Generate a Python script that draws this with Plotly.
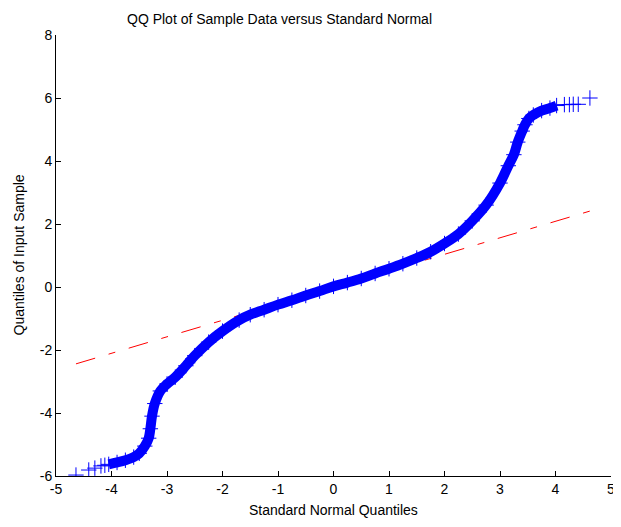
import plotly.graph_objects as go

# Standard normal quantiles (x) and sample quantiles (y)
band_x = [-4.05, -3.9, -3.75, -3.6, -3.5, -3.4, -3.33, -3.3, -3.27, -3.22, -3.12, -3.0,
          -2.85, -2.66, -2.5, -2.25, -2.0, -1.7, -1.5, -1.25, -1.0, -0.75, -0.5, -0.25,
          0.0, 0.25, 0.5, 0.75, 1.0, 1.25, 1.5, 1.75, 2.0, 2.25, 2.5, 2.75, 3.0,
          3.15, 3.25, 3.32, 3.4, 3.45, 3.52, 3.6, 3.75, 3.9, 4.02]
band_y = [-5.63, -5.57, -5.5, -5.4, -5.28, -5.05, -4.8, -4.5, -4.1, -3.7, -3.3, -3.08,
          -2.86, -2.5, -2.18, -1.75, -1.4, -1.05, -0.88, -0.72, -0.56, -0.42, -0.27, -0.13,
          0.02, 0.14, 0.27, 0.43, 0.58, 0.74, 0.92, 1.12, 1.38, 1.68, 2.1, 2.6, 3.3,
          3.85, 4.2, 4.6, 4.95, 5.15, 5.35, 5.46, 5.6, 5.68, 5.76]

tail_x = [-4.64, -4.41, -4.30, -4.19, -4.12, 4.16, 4.25, 4.32, 4.41, 4.62]
tail_y = [-5.97, -5.81, -5.75, -5.68, -5.66, 5.79, 5.79, 5.8, 5.8, 6.0]

ref_x = [-4.64, 4.62]
ref_y = [-2.44, 2.41]

x_ticks = [-5, -4, -3, -2, -1, 0, 1, 2, 3, 4, 5]
y_ticks = [-6, -4, -2, 0, 2, 4, 6, 8]

BLUE = "#0000ff"
FONT = "Liberation Sans, Arial, Helvetica, sans-serif"

fig = go.Figure()
fig.add_trace(go.Scatter(
    x=ref_x, y=ref_y, mode="lines",
    line=dict(color="#ff0000", width=1, dash="20px,14px,7px,14px"),
    hoverinfo="skip", showlegend=False))
fig.add_trace(go.Scatter(
    x=band_x, y=band_y, mode="lines+markers",
    line=dict(color=BLUE, width=10, shape="spline"),
    marker=dict(symbol="cross-thin", size=11, line=dict(color=BLUE, width=1), color=BLUE),
    hoverinfo="skip", showlegend=False))
fig.add_trace(go.Scatter(
    x=tail_x, y=tail_y, mode="markers",
    marker=dict(symbol="cross-thin", size=11, line=dict(color=BLUE, width=1), color=BLUE),
    hoverinfo="skip", showlegend=False))

fig.update_layout(
    width=613, height=519,
    margin=dict(l=48, r=6, t=27, b=51),
    paper_bgcolor="white", plot_bgcolor="white",
    font=dict(family=FONT, size=14, color="black"),
    showlegend=False,
    xaxis=dict(range=[-5, 5], tickvals=x_ticks, ticktext=[str(v) for v in x_ticks],
               showgrid=False, zeroline=False, showline=True, linecolor="black", linewidth=1,
               ticks="inside", ticklen=5, tickcolor="black", mirror=False,
               tickfont=dict(size=14)),
    yaxis=dict(range=[-6, 8], tickvals=y_ticks, ticktext=[str(v) for v in y_ticks],
               showgrid=False, zeroline=False, showline=True, linecolor="black", linewidth=1,
               ticks="inside", ticklen=5, tickcolor="black", mirror=False,
               tickfont=dict(size=14)),
    annotations=[
        dict(text="QQ Plot of Sample Data versus Standard Normal", xref="paper", yref="paper",
             x=0.4025, y=1, yshift=16, xanchor="center", yanchor="middle", showarrow=False,
             font=dict(size=14)),
        dict(text="Standard Normal Quantiles", xref="paper", yref="paper",
             x=0.5, y=0, yshift=-34, xanchor="center", yanchor="middle", showarrow=False,
             font=dict(size=14)),
        dict(text="Quantiles of Input Sample", xref="paper", yref="paper",
             x=0, xshift=-38, y=0.5, xanchor="center", yanchor="middle", textangle=-90,
             showarrow=False, font=dict(size=14)),
    ],
)

fig.write_html("out.html")
